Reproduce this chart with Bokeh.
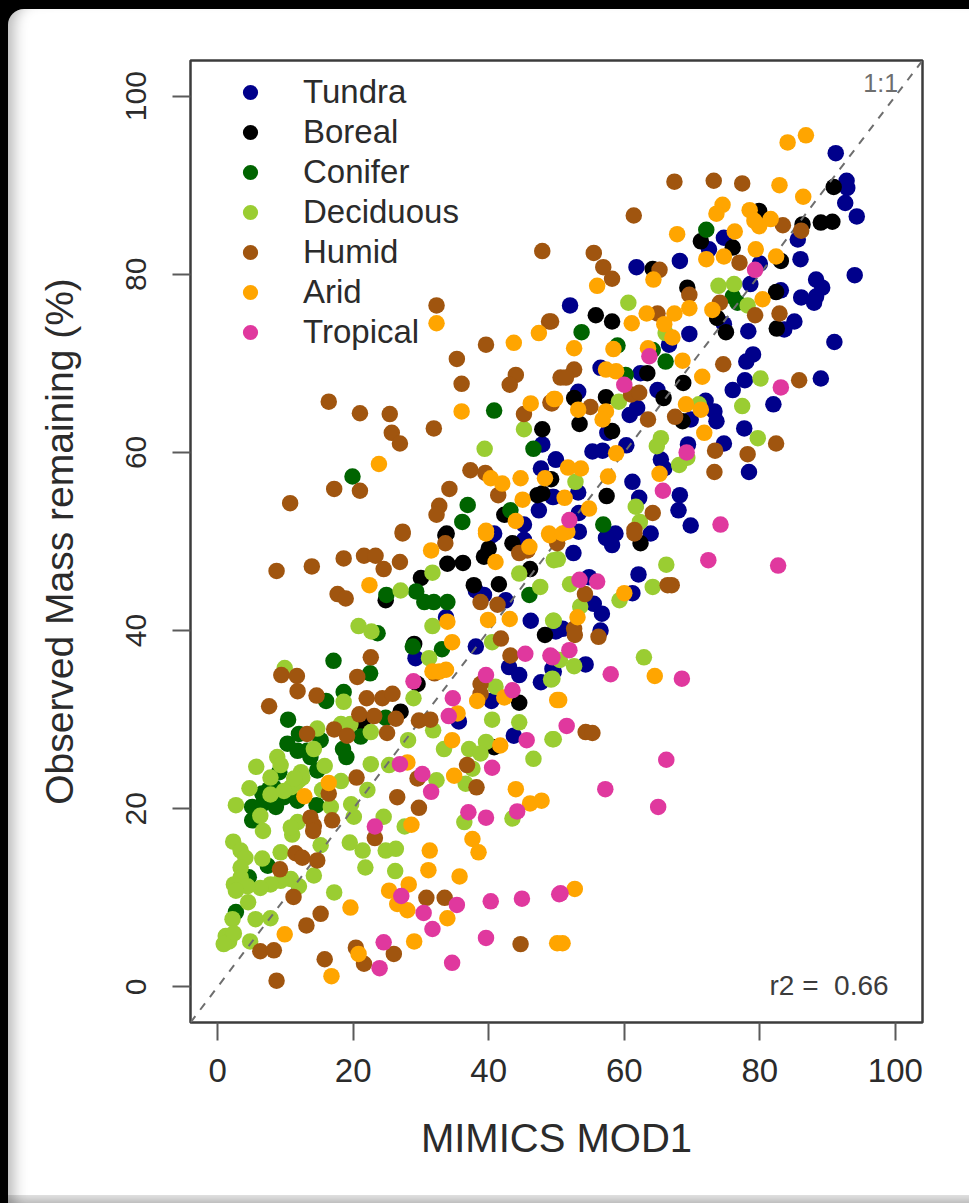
from bokeh.plotting import figure
from bokeh.models import FixedTicker, Legend, LegendItem, Label
from bokeh.embed import file_html
from bokeh.resources import INLINE

names = ["Tundra", "Boreal", "Conifer", "Deciduous", "Humid", "Arid", "Tropical"]
colors = ["#00008B", "#000000", "#006400", "#9ACD32", "#A0550F", "#FFA500", "#E0389E"]
ticks = [0, 20, 40, 60, 80, 100]

tundra = [(47.9,60.9),(49.9,59.2),(47.7,58.2),(49.6,55.0),(47.4,53.5),(45.2,51.9),(40.8,50.9),
(91.2,93.6),(92.8,90.5),(92.9,89.7),(92.6,88),(94.3,86.5),(74.7,84.1),(72.5,82.8),(85.6,83.9),(86,81.7),(61.8,80.8),(68.2,81.5),(80,81.2),(94,79.9),(78.6,78.9),(88.3,79.4),(89.2,78.5),(86.1,77.4),(88.3,77.5),(88,76.8),(52,76.5),(83.1,78.2),(85.1,74.7),(83.6,73.8),(78.3,73.6),(69.6,73.3),(74.7,74.4),(91,72.4),(66.6,72.1),(79,71),(78,70.2),(89,68.3),(77.8,68.1),(76,67),(62.4,68.9),(56.5,69.5),(82,65.4),(53.2,66.8),(64.9,67),(60.8,64.2),(61.9,65),(72,65.8),(73.3,64.6),(73.6,63.5),(69.8,63.7),(77.7,62.7),(57.5,62.2),(60.3,60.8),(55.3,60.1),(56.8,60.2),(74.7,61),(69.4,60.9),(49.9,59.2),(65.4,59.2),(65.9,58.2),(78.4,57.8),(61.2,56.7),(53.2,55.5),(62.2,54.9),(68.2,55.2),(68,53.5),(69.8,51.8),(53.3,53.2),(53.3,51.1),(58.7,50.9),(57.5,50.5),(63.9,50.9),(49.4,55.0),
(38.1,44.5),(39.3,44),(42.5,43.4),(46.2,41.1),(49.9,40),(38.1,38.2),(29.2,36.9),(43,35.9),(44.5,35),(47.7,34.2),(49.4,35.7),(40.4,32.1),(35.6,29.8),(43.7,28.2),(40.5,50.7),(45.2,50.2),(33.7,41.5),
(52.5,48.7),(62.1,46.3),(54.8,46),(61.2,44.2),(55.5,43),(56.7,41.9),(56.5,40),(50.9,40.2),(49.9,39.9),(54.3,36.2),(49.6,35.4),(58.2,49.6),(57.3,50.4)]
boreal = [(47.9,62.6),(47.9,55.4),(33.8,50.9),(47.2,55.2),(42.3,53),
(90.9,89.8),(89,85.8),(90.7,85.9),(86.3,85.6),(79.9,87.1),(71.3,83.7),(76,83),(83.1,81.5),(69.3,78.5),(64.2,80.6),(82.4,78),(55.8,75.4),(58.2,74.7),(73.7,75.1),(75,73.5),(82.5,73.9),(63.4,68.9),(68.7,67.8),(65.8,66.1),(57.3,66.2),(52.6,66.1),(53.4,63.2),(58.2,62.4),(68.6,63.5),(57.4,55.1),(49.2,57),
(33.6,50.7),(33.9,47.5),(36.2,47.6),(40,49.2),(43.5,49.8),(30,45.9),(37.8,45.1),(41.5,45.2),(46.1,46.9),(24.8,43.4),(48.3,39.5),(27,30.9),(21.4,29.7),(44.5,31.9),(29,38.5),(40.8,26.9),(39.3,48.3),(29.5,34),(62.4,49.8)]
conifer = [(40.8,64.7),(46.6,60.4),(19.9,57.3),(36.9,54.1),(36.1,52.2),(43.2,53.5),
(72.1,85),(76,77.5),(76.7,76.8),(53.7,73.5),(59,72),(66.1,70.2),(56.9,51.9),(64.2,71.5),(60.2,68.7),
(24.9,44),(29.3,44.4),(30.5,43.2),(31.9,43.2),(33.9,43.2),(46,44),(28.8,38.2),(33.1,37.9),(23.6,39.7),(17.1,36.6),(22.5,35.2),(18.6,33.1),(16,32.1),(10.4,30),(24.8,30.2),(21.1,28.1),(15.2,27.7),(10.3,27.3),(11.8,26.5),(13.2,26.5),(18.5,26.7),(19,25.8),(14.7,24.3),(9.1,24.1),(7.6,22.2),(6.6,21.7),(8.3,22.4),(9.8,21.3),(5.1,20.2),(6.6,20.5),(8.6,20.2),(5.1,18.7),(11.8,20.9),(14.6,20.4),(7.4,13.6),(2.7,8.4),(4.6,12.3),(12,28.4),(13.7,25.8)]
deciduous = [(45.2,62.6),(39.4,60.4),
(60.6,76.8),(73.9,78.7),(76.2,78.9),(78.2,76.5),(80.1,68.3),(77.4,65.2),(59.2,65.7),(79.7,61.6),(65.4,61.6),(64.8,60.7),(68.1,58.6),(69.3,59.4),(52.8,56.7),(61.7,53.9),(62.3,52.2),(66.1,73.4),(71,65.4),
(31.7,46.5),(27,44.5),(44.5,46.4),(47.6,44.9),(49.6,47.9),(31.7,40.5),(49.5,41.1),(40.5,38.7),(20.8,40.5),(22.7,39.9),(31.2,36.9),(9.9,35.8),(41,33.7),(49.2,34.5),(18.6,32),(28.9,32.4),(40.5,30),(44.5,29.7),(49.4,27.8),(14.7,29),(18.2,29.5),(19.6,29.5),(22.6,28.6),(31.8,28.8),(28.1,27.7),(46.6,25.6),(33.4,26.7),(37.1,26.7),(39.6,27.5),(38.8,26.2),(22.6,25),(25.3,24.9),(15.8,24.8),(14.2,26.7),(8.8,25.8),(5.7,24.7),(9.3,24.9),(7.8,23.5),(12.3,24.1),(11.5,22.8),(10.8,22.4),(4.7,22.3),(7.8,21.6),(18.2,23.1),(32.3,23.2),(37.6,24.5),(36.6,22.8),(22.1,22.1),(15.4,22.1),(2.7,20.4),(16.7,20.2),(19.7,20.5),(6.3,19.2),(20.1,19.1),(11.8,18.5),(6.7,17.5),(24.5,19.1),(11,17.1),(27.6,18),(36.4,18.5),(43.5,18.9),(2.3,16.3),(3.4,15.3),(19.5,16.2),(21.4,15.3),(24.8,15.3),(26.3,15.5),(9.3,15.1),(6.6,14.4),(15.2,15.9),(4.1,14.5),(3.4,13.4),(21.8,13.4),(26.2,13),(14.2,12.5),(10.8,12.1),(9.3,11.9),(7.8,11.5),(6.3,11.1),(3.4,12.3),(2.4,11.5),(12,11.3),(4.4,11.3),(2.7,10.8),(17.2,10.6),(4.5,9.5),(5.6,7.6),(7.8,7.7),(2.2,7.6),(4.8,5.1),(1.2,5.7),(1.7,5.1),(2.4,6),(0.9,4.8),(12,23.2),(12.5,23.5),(11.3,23.4),(9.8,22),(10.8,17.9),
(66.2,47.4),(64.2,44.9),(59.3,43.4),(52,45.2),(50.2,48),(53.5,42.7),(49.6,41.1),(62.9,37),(50.5,36.7),(52.6,36),(49.4,34.6),(49.6,27.8)]
humid = [(47.9,82.6),(32.3,76.5),(48.9,74.7),(39.6,72.1),(35.3,70.5),(36,67.7),(44,68.7),(43.1,67.6),(16.4,65.7),(21,64.4),(25.4,64.3),(31.9,62.7),(25.7,62.2),(26.9,61),(45.2,64.3),(49.1,65.6),(37.3,58),(39.5,57.7),(17.2,55.9),(21,55.7),(10.7,54.3),(34.2,55.9),(41.4,55.2),(32.7,54),(32.3,53),(27.3,51.1),(50.6,68.4),
(67.4,90.4),(73.2,90.5),(77.4,90.2),(61.4,86.6),(83.4,85.5),(86.1,84.9),(55.5,82.4),(56.9,80.8),(58.2,79.5),(65.2,80.5),(77,81.3),(69.6,77.7),(74.1,76.8),(64.9,75.6),(79.3,75.4),(82.9,75.6),(52.6,69.3),(51.4,68.4),(49.2,74.7),(61,66.5),(62.2,66.7),(55,65.1),(63.5,63.7),(67.5,64),(74.6,69.9),(85.8,68.1),(82.4,61),(73.4,60.2),(78.2,59.8),(73.3,57.8),(64.2,53.2),(61.5,51.3),(49.3,65.5),
(8.7,46.7),(13.9,47.2),(18.6,48.1),(21.6,48.4),(23.3,48.4),(24.5,46.9),(26.9,47.7),(17.7,44.1),(18.9,43.6),(27.3,50.9),(33.6,49.8),(38.8,43.2),(41.3,42.9),(44.5,48.7),(45.7,49),(22.6,37),(20.6,34.8),(9.4,35),(11.7,34.9),(11.8,33.2),(14.6,32.7),(7.6,31.5),(22,32.4),(24.3,32.4),(25.8,32.9),(20.9,30.6),(23.1,30.4),(26.3,30.1),(25,28.5),(17.2,28.9),(19.1,28.2),(13.2,28.4),(29.7,29.9),(31.4,30),(43.2,37.2),(38.8,34),(38.8,32.9),(41.8,39.1),(29.5,23.4),(20.5,23.5),(36.8,24.9),(38.2,22.4),(26.5,21.3),(29.7,20.1),(13.7,19),(14.2,18.1),(14.1,17.5),(16.9,18.7),(23.2,16.7),(11.5,15),(12.5,14.5),(14.7,14.2),(9.2,13.2),(11.2,10.1),(30.8,10),(33.5,10),(15.2,8.2),(13.1,6.9),(6.3,4),(8.3,4.1),(20.4,4.4),(15.8,3.1),(21.6,2.6),(26,3.7),(8.7,0.7),(44.7,4.8),(16.4,21.7),(32,35.2),
(67,45.1),(66.4,45.1),(54.2,44.1),(52.6,40.2),(52.7,39.5),(56.2,39.3),(54.3,28.6),(55.3,28.5),(50.1,49.8),(61.5,50.9)]
arid = [(32.3,74.5),(43.7,72.3),(47.4,73.4),(36,64.6),(46.2,65.5),(49.6,66),(23.8,58.7),(40.3,57.1),(42,56.5),(44.7,57.1),(48.3,57.1),(45,54.7),(44,52.3),(39.6,51.2),(48.9,50.9),
(86.8,95.6),(84.1,94.8),(82.9,90),(86.4,88.7),(74.5,87.8),(73.6,86.8),(78.5,87.2),(67.8,84.5),(76.3,84.8),(81.6,86.2),(79.9,85.4),(79.2,86),(79.4,82.8),(82.4,82),(72.1,81.7),(74.7,82),(64.3,79.4),(56,78.7),(80.4,77.2),(73,76),(69.6,76.2),(67.4,75.6),(63.3,75.6),(61.1,74.5),(65.9,74.4),(67.1,72.9),(52.6,71.7),(58.4,71.6),(63.5,71.7),(68.6,70.3),(71.5,68.5),(57.3,69.3),(58.8,69.1),(49.8,66),(53.2,64.8),(57.3,64.6),(56.8,63.7),(69.1,65.4),(71.3,64.8),(71.8,62.2),(58.8,59.9),(51.7,58.3),(53.6,58.2),(57.6,57.3),(65.2,57.6),(51.2,54.9),(54.8,53.7),(51.6,51.1),
(31.5,49),(41,47.7),(39.6,50.9),(49,50.7),(22.4,45.1),(33.9,41),(39.9,41.2),(43.1,41.3),(34.6,38.7),(46,49.4),(31.7,35.4),(32.7,35.4),(33.7,35.6),(38.3,32.1),(42.3,32.5),(35.4,30.7),(34.6,27.7),(41.7,27.1),(34.9,23.7),(16.4,22.9),(12.8,21.4),(28,25.2),(44,22.2),(46.1,20.6),(47.8,20.9),(28.6,18.2),(37.6,16.6),(38.5,15.1),(31.3,15.3),(31.1,13.1),(35.7,12.4),(28.2,11.5),(25.3,10.8),(26.5,9.3),(28,8.6),(19.6,8.9),(33.9,7.7),(9.9,5.9),(29,5.1),(20.8,3.7),(16.8,1.2),(50.1,32.2),(50.1,4.9),
(60,44.2),(53.1,41.5),(64.5,34.9),(50.4,32.2),(52.7,11),(50.9,4.9),(50.9,50.9)]
tropical = [(79.3,80.5),(63.7,70.8),(60,67.6),(83.1,67.3),(69.2,60),(65.7,55.7),(74.2,51.9),(51.9,52.4),
(45.4,37.4),(49.1,37.2),(39.6,35),(43.5,33.3),(28.9,34.3),(34.7,32.4),(34.1,30.4),(45.6,27.7),(26.9,25),(30.2,23.9),(31.5,21.9),(40.5,24.6),(37,19.6),(39.6,19),(44.2,19.7),(23.2,18),(27.1,10.2),(35.3,9.2),(30.4,8.3),(31.7,6.5),(40.3,9.6),(44.9,9.9),(50.4,10.4),(39.6,5.5),(24.5,5),(23.9,2.1),(34.6,2.7),
(72.4,47.9),(82.7,47.3),(53.4,45.7),(56,45.5),(51.9,37.8),(49.4,37),(58,35.1),(68.5,34.6),(51.5,29.3),(66.2,25.5),(57.2,22.2),(65,20.2),(50.6,10.5)]
series = [tundra, boreal, conifer, deciduous, humid, arid, tropical]

W, H = 969, 1203
p = figure(width=W, height=H, x_range=(-4, 104), y_range=(-4, 104),
           frame_width=732, frame_height=962,
           min_border_left=190, min_border_right=47, min_border_top=60, min_border_bottom=181,
           toolbar_location=None, output_backend="svg",
           background_fill_color="white", border_fill_color="white")
p.grid.visible = False
p.outline_line_color = "#3c3c3c"
p.outline_line_width = 2.5

items = []
for nm, col, pts in zip(names, colors, series):
    r = p.scatter([a for a, _ in pts], [b for _, b in pts], size=16.5, color=col, line_alpha=0)
    items.append(LegendItem(label=nm, renderers=[r]))
    if nm == "Deciduous":
        p.line([-4, 104], [-4, 104], line_color="#6e6e6e", line_width=2, line_dash="8 8")

legend = Legend(items=items, location=(41, 671), orientation="vertical",
                background_fill_alpha=0, border_line_alpha=0, padding=0, margin=0,
                glyph_width=38, glyph_height=38, spacing=2, label_standoff=34, label_height=34,
                label_text_font="Liberation Sans", label_text_font_size="33px", label_text_color="#2b2b2b")
p.add_layout(legend, "center")

for ax in (p.xaxis[0], p.yaxis[0]):
    ax.ticker = FixedTicker(ticks=ticks)
    ax.axis_line_color = None
    ax.major_tick_line_color = "#5a5a5a"
    ax.major_tick_line_width = 2
    ax.major_tick_in = 0
    ax.minor_tick_line_color = None
    ax.major_label_text_color = "#2b2b2b"
    ax.axis_label_text_color = "#2b2b2b"
    ax.axis_label_text_font_style = "normal"

xa, ya = p.xaxis[0], p.yaxis[0]
xa.major_tick_out = 18
xa.major_label_text_font = "Liberation Sans"
xa.major_label_text_font_size = "33px"
xa.major_label_standoff = 18
xa.axis_label = "MIMICS MOD1"
xa.axis_label_text_font = "Liberation Sans"
xa.axis_label_text_font_size = "40px"
xa.axis_label_standoff = 31

ya.major_tick_out = 18
ya.major_label_orientation = "vertical"
ya.major_label_text_font = "Liberation Sans"
ya.major_label_text_font_size = "30px"
ya.major_label_standoff = 26
ya.axis_label = "Observed Mass remaining (%)"
ya.axis_label_text_font = "Liberation Sans"
ya.axis_label_text_font_size = "39px"
ya.axis_label_standoff = 43

p.add_layout(Label(x=100.4, y=101.5, text="1:1", text_align="right", text_baseline="middle",
                   text_font="Liberation Sans", text_font_size="25px", text_color="#6e6e6e"))
p.add_layout(Label(x=99, y=0.1, text="r2 =\u00a0 0.66", text_align="right", text_baseline="middle",
                   text_font="Liberation Sans", text_font_size="28px", text_color="#3c3c3c"))

page_style = """<style>
html,body{background:#000;overflow:hidden}
body::after{content:"";position:fixed;left:8px;top:9px;right:-30px;bottom:0;border-radius:16px 16px 0 0;
pointer-events:none;box-shadow:0 0 0 40px #000,inset 16px 0 14px -10px rgba(0,0,0,.28)}
body::before{content:"";position:fixed;z-index:5;left:8px;right:0;bottom:0;height:8px;pointer-events:none;
background:linear-gradient(rgba(0,0,0,.12),rgba(0,0,0,.24))}
</style>"""
open("out.html", "w").write(file_html(p, INLINE).replace("</head>", page_style + "</head>"))
